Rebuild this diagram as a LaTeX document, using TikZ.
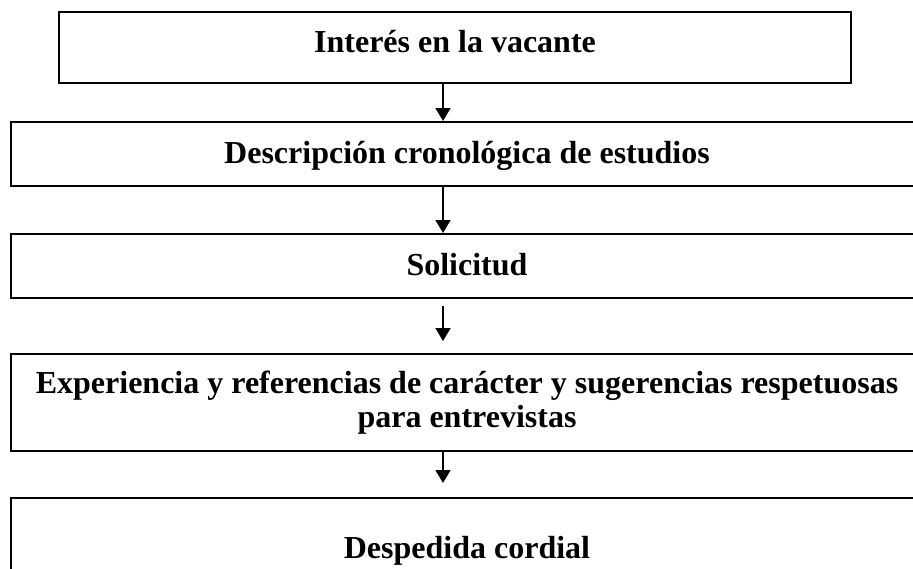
\documentclass[tikz,border=0pt]{standalone}
\usepackage{fontspec}
\setmainfont{Liberation Serif}
\usetikzlibrary{arrows.meta}

\begin{document}
\begin{tikzpicture}[x=0.5pt, y=-0.5pt,
    block/.style={draw=black, line width=1pt, rectangle, inner sep=0pt,
        minimum width=456pt, minimum height=32pt, align=center,
        font=\fontsize{16}{17}\selectfont\bfseries,
        text height=11pt, text depth=2pt},
    flow/.style={draw=black, line width=0.8pt,
        -{Triangle[width=7.5pt, length=6.5pt]}}
]
    \path[use as bounding box] (0,0) rectangle (913,568);
    \clip (0,0) rectangle (913,568);

    % the five parts of the letter
    \node[block, minimum width=396pt, minimum height=35.5pt,
        text depth=6.5pt] (interes) at (455,47.5) {Interés en la vacante};
    \node[block] (estudios) at (467,154)
        {Descripción cronológica de estudios};
    \node[block] (solicitud) at (467,266) {Solicitud};
    \node[block, minimum height=48.5pt, text height=, text depth=]
        (experiencia) at (467,402.5)
        {Experiencia y referencias de carácter y sugerencias respetuosas\\
         para entrevistas};
    \node[block, minimum height=51pt] (despedida) at (467,549)
        {Despedida cordial};

    % arrows between them
    \coordinate (spine) at (443,0);
    \draw[flow] (interes.south -| spine) -- (estudios.north -| spine);
    \draw[flow] (estudios.south -| spine) -- (solicitud.north -| spine);
    \draw[flow, shorten <=3.5pt, shorten >=6pt]
        (solicitud.south -| spine) -- (experiencia.north -| spine);
    \draw[flow, shorten >=7pt]
        (experiencia.south -| spine) -- (despedida.north -| spine);
\end{tikzpicture}
\end{document}
